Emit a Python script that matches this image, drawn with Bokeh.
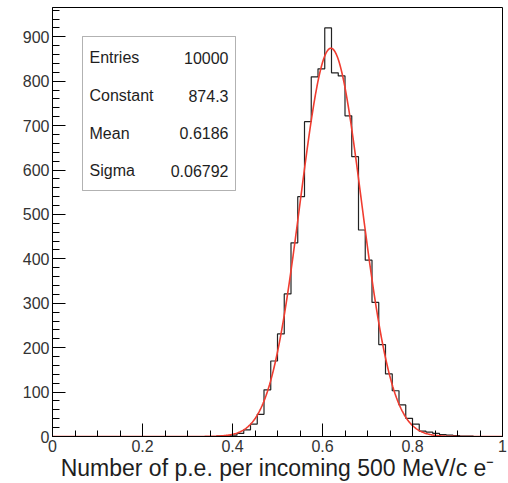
import numpy as np
from bokeh.plotting import figure
from bokeh.models import (BoxAnnotation, Label, SingleIntervalTicker,
                          CustomJSTickFormatter)
from bokeh.embed import file_html
from bokeh.resources import INLINE

# ---- histogram: bin edges and counts -------------------------------------
bin_edges = [0.365, 0.380, 0.395, 0.410, 0.425, 0.440, 0.455, 0.470, 0.485,
             0.500, 0.515, 0.530, 0.545, 0.560, 0.575, 0.590, 0.605, 0.620,
             0.635, 0.650, 0.665, 0.680, 0.695, 0.710, 0.725, 0.740, 0.755,
             0.770, 0.785, 0.800, 0.815, 0.830, 0.845, 0.860, 0.875, 0.890,
             0.905, 0.920, 0.935]
counts = [1, 1, 3, 7, 15, 28, 50, 105, 170, 231, 321, 436, 540, 709, 810,
          828, 920, 819, 812, 722, 630, 465, 397, 302, 207, 141, 103, 71,
          41, 28, 12, 10, 7, 4, 3, 2, 1, 1]

# ---- gaussian fit result and stats ----------------------------------------
entries = 10000
fit_constant = 874.3
fit_mean = 0.6186
fit_sigma = 0.06792

stat_names = ["Entries", "Constant", "Mean", "Sigma"]
stat_values = ["10000", "874.3", "0.6186", "0.06792"]

x_title = "Number of p.e. per incoming 500 MeV/c e\u207b"

x_ticks_step = 0.2
y_ticks_step = 100

X_MIN, X_MAX = 0.0, 1.0
Y_MIN, Y_MAX = 0.0, 966.0

FONT = "Liberation Sans"
INK = "#1e1e1e"

# frame placement in pixels
W, H = 508, 483
FL, FR, FT, FB = 52, 502, 7, 436


def dx(px):
    return X_MIN + (px - FL) / (FR - FL) * (X_MAX - X_MIN)


def dy(py):
    return Y_MIN + (FB - py) / (FB - FT) * (Y_MAX - Y_MIN)


p = figure(width=W, height=H, x_range=(X_MIN, X_MAX), y_range=(Y_MIN, Y_MAX),
           output_backend="svg", toolbar_location=None,
           min_border_left=FL, min_border_right=W - FR,
           min_border_top=FT, min_border_bottom=H - FB)
p.background_fill_color = "white"
p.border_fill_color = "white"
p.outline_line_color = "black"
p.outline_line_width = 1
p.xgrid.visible = False
p.ygrid.visible = False

# axes: ticks drawn inside the frame
for ax in (p.xaxis[0], p.yaxis[0]):
    ax.axis_line_color = "black"
    ax.major_tick_line_color = "black"
    ax.minor_tick_line_color = "black"
    ax.major_tick_out = 0
    ax.minor_tick_out = 0
    ax.major_label_text_font = FONT
    ax.major_label_text_font_size = "16px"
    ax.major_label_text_color = "#333333"

xa = p.xaxis[0]
xa.ticker = SingleIntervalTicker(interval=x_ticks_step, num_minor_ticks=4)
xa.major_tick_in = 13
xa.minor_tick_in = 6
xa.major_label_standoff = 3
xa.formatter = CustomJSTickFormatter(
    code="return (Math.round(tick * 10) / 10).toString();")
xa.axis_label = x_title
xa.axis_label_text_font = FONT
xa.axis_label_text_font_size = "23px"
xa.axis_label_text_font_style = "normal"
xa.axis_label_text_color = INK
xa.axis_label_standoff = 0

ya = p.yaxis[0]
ya.ticker = SingleIntervalTicker(interval=y_ticks_step, num_minor_ticks=5)
ya.major_tick_in = 13
ya.minor_tick_in = 7
ya.major_label_standoff = 3

# histogram outline (zero level outside the filled bins)
edges = np.asarray(bin_edges)
vals = np.asarray(counts, dtype=float)
hx = np.concatenate([[X_MIN], np.repeat(edges, 2), [X_MAX]])
hy = np.concatenate([[0.0, 0.0], np.repeat(vals, 2), [0.0, 0.0]])
p.line(hx, hy, line_color="#222222", line_width=1.2)

# gaussian fit curve
fx = np.linspace(X_MIN, X_MAX, 600)
fy = fit_constant * np.exp(-0.5 * ((fx - fit_mean) / fit_sigma) ** 2)
p.line(fx, fy, line_color="#f03c30", line_width=1.6)

# statistics box
p.add_layout(BoxAnnotation(left=dx(82), right=dx(235), top=dy(36), bottom=dy(190),
                           fill_color="white", fill_alpha=1.0,
                           line_color="black", line_width=1))
row_baselines = [57.0, 95.0, 132.5, 170.0]
for name, val, by in zip(stat_names, stat_values, row_baselines):
    p.add_layout(Label(x=dx(89), y=dy(by), text=name, text_font=FONT,
                       text_font_size="16px", text_color=INK,
                       text_align="left", text_baseline="alphabetic"))
    p.add_layout(Label(x=dx(228), y=dy(by), text=val, text_font=FONT,
                       text_font_size="16px", text_color=INK,
                       text_align="right", text_baseline="alphabetic"))

open("out.html", "w").write(file_html(p, INLINE))
